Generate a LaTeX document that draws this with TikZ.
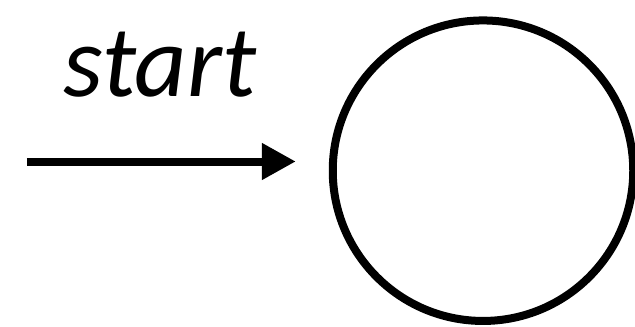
\documentclass[tikz,border=0pt]{standalone}
\usepackage{fontspec}
\setmainfont{Carlito}
\usepackage{tikz}
\usetikzlibrary{arrows.meta,positioning}
\tikzset{
  >={Triangle[length=6.8mm, width=7mm]},
  state/.style={draw, circle, line width=1.6mm, minimum size=60.1mm, inner sep=0pt},
  flow/.style={->, line width=1.6mm, shorten >=6.6mm},
  lbl/.style={font=\fontsize{58}{64}\selectfont\itshape, inner sep=0pt, anchor=base},
}
\begin{document}
\begin{tikzpicture}
  \useasboundingbox (0,0) rectangle (12.7,6.52);
  \node[state] (q0) at (9.66,3.106) {};
  \coordinate (src) at (0.54,3.29);
  \draw[flow] (src) -- (src -| q0.west);
  \node[lbl] (start) at (3.2,4.58) {start};
\end{tikzpicture}
\end{document}
